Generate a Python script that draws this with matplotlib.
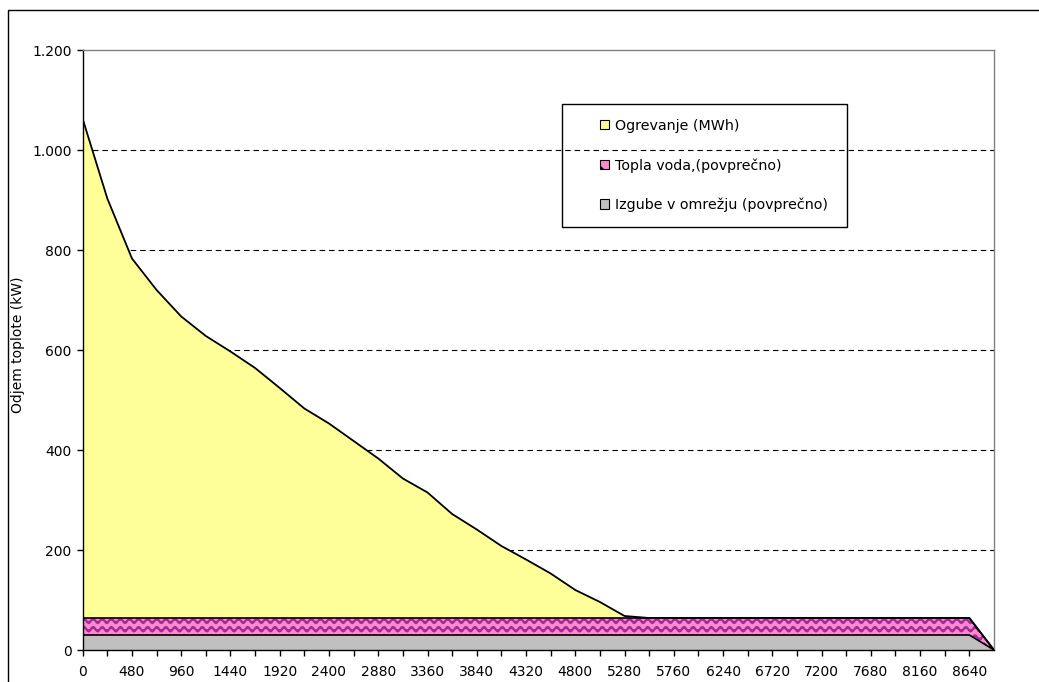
import numpy as np
import matplotlib
matplotlib.use("Agg")
import matplotlib.pyplot as plt
import matplotlib.hatch as mhatch
from matplotlib.path import Path
from matplotlib.patches import Patch, Rectangle
from matplotlib.ticker import FuncFormatter

# hours of the year (category axis, one step = 240 h)
hours = [0, 240, 480, 720, 960, 1200, 1440, 1680, 1920, 2160, 2400, 2640,
         2880, 3120, 3360, 3600, 3840, 4080, 4320, 4560, 4800, 5040, 5280,
         5520, 5760, 6000, 6240, 6480, 6720, 6960, 7200, 7440, 7680, 7920,
         8160, 8400, 8640, 8760]

# kW, stacked from the bottom
izgube = [30, 30, 30, 30, 30, 30, 30, 30, 30, 30, 30, 30, 30, 30, 30, 30,
          30, 30, 30, 30, 30, 30, 30, 30, 30, 30, 30, 30, 30, 30, 30, 30,
          30, 30, 30, 30, 30, 0]
topla_voda = [34, 34, 34, 34, 34, 34, 34, 34, 34, 34, 34, 34, 34, 34, 34, 34,
              34, 34, 34, 34, 34, 34, 34, 34, 34, 34, 34, 34, 34, 34, 34, 34,
              34, 34, 34, 34, 34, 0]
ogrevanje = [998, 839, 719, 656, 603, 564, 533, 500, 460, 419, 389, 354,
             319, 279, 251, 208, 177, 144, 117, 89, 56, 32, 4,
             0, 0, 0, 0, 0, 0, 0, 0, 0, 0, 0, 0, 0, 0, 0]

labels = ["Ogrevanje (MWh)", "Topla voda,(povprečno)",
          "Izgube v omrežju (povprečno)"]


# wavy hatch (replaces the '-' hatch, which is not used elsewhere)
class WavyHatch(mhatch.HatchPatternBase):
    def __init__(self, hatch, density):
        self.num_lines = int(hatch.count('-') * density)
        self.n_waves = 11
        self.pts = self.n_waves * 8 + 1
        self.num_vertices = self.num_lines * self.pts

    def set_vertices_and_codes(self, vertices, codes):
        t = np.linspace(0, 1, self.pts)
        for i in range(self.num_lines):
            y0 = (i + 0.5) / self.num_lines
            sl = slice(i * self.pts, (i + 1) * self.pts)
            vertices[sl, 0] = t
            vertices[sl, 1] = y0 + 0.022 * np.sin(2 * np.pi * self.n_waves * t)
            codes[sl] = Path.LINETO
            codes[i * self.pts] = Path.MOVETO


for i, h in enumerate(mhatch._hatch_types):
    if h is mhatch.HorizontalHatch:
        mhatch._hatch_types[i] = WavyHatch
plt.rcParams['hatch.linewidth'] = 1.6

W, H = 1039, 682
fig = plt.figure(figsize=(W / 100, H / 100), dpi=100)
ax = fig.add_axes([82.7 / W, 1 - 650 / H, (994 - 82.7) / W, 600 / H])

x = np.arange(len(hours))
b1 = np.array(izgube)
b2 = b1 + np.array(topla_voda)
b3 = b2 + np.array(ogrevanje)

ax.fill_between(x, 0, b1, facecolor='#C0C0C0', linewidth=0, zorder=2)
ax.fill_between(x, b1, b2, facecolor='#FF8ACB', edgecolor='#A12A9C',
                hatch='--', linewidth=0, zorder=2)
ax.fill_between(x, b2, b3, facecolor='#FFFF99', linewidth=0, zorder=2)
ax.plot(x, b1, color='black', lw=1.2, zorder=3)
ax.plot(x, b2, color='black', lw=1.2, zorder=3)
ax.plot(x, b3, color='black', lw=1.3, zorder=3)

ax.set_xlim(0, len(hours) - 1)
ax.set_ylim(0, 1200)
ax.set_xticks(x[:-1])
ax.set_xticklabels([str(h) if i % 2 == 0 else '' for i, h in enumerate(hours[:-1])])
ax.set_yticks(np.arange(0, 1201, 200))
ax.yaxis.set_major_formatter(FuncFormatter(lambda v, p: f"{int(v):,}".replace(',', '.')))
ax.tick_params(axis='x', direction='out', length=4, width=1, pad=7, labelsize=10)
ax.tick_params(axis='y', direction='out', length=4, width=1, pad=4, labelsize=10)

for y in range(200, 1200, 200):
    ax.axhline(y, color='black', lw=0.8, linestyle=(0, (5, 3.5)), zorder=1)

ax.spines['left'].set_color('black')
ax.spines['bottom'].set_color('black')
ax.spines['top'].set_color('#808080')
ax.spines['right'].set_color('#808080')
for s in ax.spines.values():
    s.set_linewidth(1)

fig.text(18 / W, 1 - 345 / H, "Odjem toplote (kW)", rotation=90,
         ha='center', va='center', fontsize=10)

# legend box
fig.add_artist(Rectangle((562 / W, 1 - 227 / H), 285 / W, 123 / H,
                         transform=fig.transFigure, fill=False,
                         edgecolor='black', lw=1))
handles = [Patch(facecolor='#FFFF99', edgecolor='black', lw=0.8),
           Patch(facecolor='#FF8ACB', edgecolor='black', lw=0.8, hatch='\\\\'),
           Patch(facecolor='#C0C0C0', edgecolor='black', lw=0.8)]
fig.legend(handles, labels, loc='upper left',
           bbox_to_anchor=(600 / W, 1 - 119 / H), frameon=False,
           fontsize=10.3, handlelength=0.6, handleheight=0.6,
           handletextpad=0.45, labelspacing=1.75, borderpad=0,
           borderaxespad=0)

# chart area border
fig.add_artist(Rectangle((7.5 / W, -0.1), 2, 1.1 - 9.5 / H,
                         transform=fig.transFigure, fill=False,
                         edgecolor='black', lw=1))

fig.savefig("out.png", dpi=100)
